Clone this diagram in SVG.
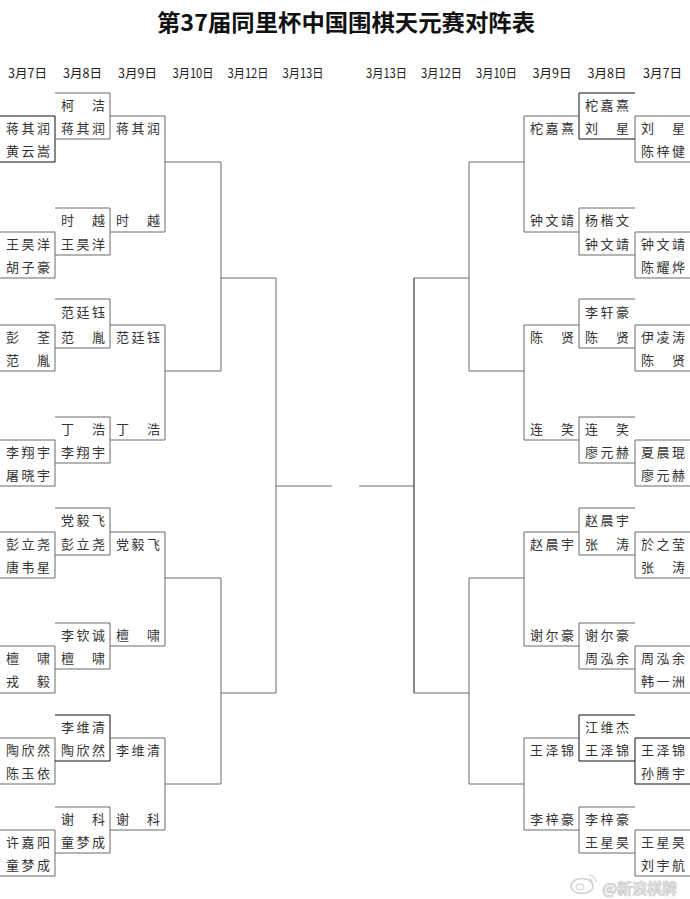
<svg xmlns="http://www.w3.org/2000/svg" width="690" height="899" viewBox="0 0 690 899">
<style>
.t{font-family:"Noto Sans CJK SC","Noto Sans",sans-serif;font-size:13px;fill:#333}
.h{font-family:"Noto Sans CJK SC","Noto Sans",sans-serif;font-size:12.5px;fill:#222;text-anchor:middle}
.ttl{font-family:"Noto Sans CJK SC","Noto Sans",sans-serif;font-size:23px;font-weight:bold;fill:#111;text-anchor:middle}
.b{fill:none;stroke:#6a6a6a;stroke-width:1}
.k{fill:none;stroke:#111;stroke-width:1}
.wm{font-family:"Noto Sans CJK SC","Noto Sans",sans-serif;font-size:15px;font-weight:bold;fill:#e4e4e4;stroke:#c8c8c8;stroke-width:0.6}
</style>
<rect width="690" height="899" fill="#fff"/>
<text class="ttl" x="346" y="31" textLength="378" lengthAdjust="spacingAndGlyphs">第37届同里杯中国围棋天元赛对阵表</text>
<g id="headers">
<text class="h" x="27.5" y="78">3月7日</text>
<text class="h" x="82.5" y="78">3月8日</text>
<text class="h" x="137.5" y="78">3月9日</text>
<text class="h" x="193" y="78" textLength="41" lengthAdjust="spacingAndGlyphs">3月10日</text>
<text class="h" x="248" y="78" textLength="41" lengthAdjust="spacingAndGlyphs">3月12日</text>
<text class="h" x="303" y="78" textLength="41" lengthAdjust="spacingAndGlyphs">3月13日</text>
<text class="h" x="386.5" y="78" textLength="41" lengthAdjust="spacingAndGlyphs">3月13日</text>
<text class="h" x="441.5" y="78" textLength="41" lengthAdjust="spacingAndGlyphs">3月12日</text>
<text class="h" x="496.5" y="78" textLength="41" lengthAdjust="spacingAndGlyphs">3月10日</text>
<text class="h" x="552" y="78">3月9日</text>
<text class="h" x="607" y="78">3月8日</text>
<text class="h" x="662.5" y="78">3月7日</text>
</g>

<!-- LEFT column 1 (3月7日) -->
<g id="L1-1"><path class="k" d="M0,116H55V162H0"/><text class="t" x="6 21.5 37" y="132.5">蒋其润</text><text class="t" x="6 21.5 37" y="155.5">黄云嵩</text></g>
<g id="L1-2"><path class="b" d="M0,232H55V278H0"/><text class="t" x="6 21.5 37" y="248.5">王昊洋</text><text class="t" x="6 21.5 37" y="271.5">胡子豪</text></g>
<g id="L1-3"><path class="b" d="M0,325H55V371H0"/><text class="t" x="6 37" y="341.5">彭荃</text><text class="t" x="6 37" y="364.5">范胤</text></g>
<g id="L1-4"><path class="b" d="M0,440H55V486H0"/><text class="t" x="6 21.5 37" y="456.5">李翔宇</text><text class="t" x="6 21.5 37" y="479.5">屠晓宇</text></g>
<g id="L1-5"><path class="b" d="M0,532H55V578H0"/><text class="t" x="6 21.5 37" y="548.5">彭立尧</text><text class="t" x="6 21.5 37" y="571.5">唐韦星</text></g>
<g id="L1-6"><path class="b" d="M0,646H55V693H0"/><text class="t" x="6 37" y="662.5">檀啸</text><text class="t" x="6 37" y="686">戎毅</text></g>
<g id="L1-7"><path class="b" d="M0,738H55V784H0"/><text class="t" x="6 21.5 37" y="754.5">陶欣然</text><text class="t" x="6 21.5 37" y="777.5">陈玉依</text></g>
<g id="L1-8"><path class="b" d="M0,830H55V876H0"/><text class="t" x="6 21.5 37" y="846.5">许嘉阳</text><text class="t" x="6 21.5 37" y="869.5">童梦成</text></g>

<!-- LEFT column 2 (3月8日) -->
<g id="L2-1"><path class="b" d="M55,93H110V139H55"/><text class="t" x="61 92" y="109.5">柯洁</text><text class="t" x="61 76.5 92" y="132.5">蒋其润</text></g>
<g id="L2-2"><path class="b" d="M55,208H110V255H55"/><text class="t" x="61 92" y="225">时越</text><text class="t" x="61 76.5 92" y="248.5">王昊洋</text></g>
<g id="L2-3"><path class="b" d="M55,299H110V348H55"/><text class="t" x="61 76.5 92" y="317">范廷钰</text><text class="t" x="61 92" y="341.5">范胤</text></g>
<g id="L2-4"><path class="b" d="M55,417H110V463H55"/><text class="t" x="61 92" y="433.5">丁浩</text><text class="t" x="61 76.5 92" y="456.5">李翔宇</text></g>
<g id="L2-5"><path class="b" d="M55,508H110V555H55"/><text class="t" x="61 76.5 92" y="525">党毅飞</text><text class="t" x="61 76.5 92" y="548.5">彭立尧</text></g>
<g id="L2-6"><path class="b" d="M55,623H110V669H55"/><text class="t" x="61 76.5 92" y="639.5">李钦诚</text><text class="t" x="61 92" y="662.5">檀啸</text></g>
<g id="L2-7"><path class="k" d="M55,715H110V761H55"/><text class="t" x="61 76.5 92" y="731.5">李维清</text><text class="t" x="61 76.5 92" y="754.5">陶欣然</text></g>
<g id="L2-8"><path class="b" d="M55,807H110V853H55"/><text class="t" x="61 92" y="823.5">谢科</text><text class="t" x="61 76.5 92" y="846.5">童梦成</text></g>

<!-- LEFT column 3 (3月9日) names -->
<g id="L3-1"><text class="t" x="116 131.5 147" y="132.5">蒋其润</text><text class="t" x="116 147" y="225">时越</text></g>
<g id="L3-2"><text class="t" x="116 131.5 147" y="341.5">范廷钰</text><text class="t" x="116 147" y="433.5">丁浩</text></g>
<g id="L3-3"><text class="t" x="116 131.5 147" y="548.5">党毅飞</text><text class="t" x="116 147" y="639.5">檀啸</text></g>
<g id="L3-4"><text class="t" x="116 131.5 147" y="754.5">李维清</text><text class="t" x="116 147" y="823.5">谢科</text></g>

<!-- RIGHT column 1 (3月7日) -->
<g id="R1-1"><path class="b" d="M690,116H635V162H690"/><text class="t" x="641 672" y="132.5">刘星</text><text class="t" x="641 656.5 672" y="155.5">陈梓健</text></g>
<g id="R1-2"><path class="b" d="M690,232H635V278H690"/><text class="t" x="641 656.5 672" y="248.5">钟文靖</text><text class="t" x="641 656.5 672" y="271.5">陈耀烨</text></g>
<g id="R1-3"><path class="b" d="M690,325H635V371H690"/><text class="t" x="641 656.5 672" y="341.5">伊凌涛</text><text class="t" x="641 672" y="364.5">陈贤</text></g>
<g id="R1-4"><path class="b" d="M690,440H635V486H690"/><text class="t" x="641 656.5 672" y="456.5">夏晨琨</text><text class="t" x="641 656.5 672" y="479.5">廖元赫</text></g>
<g id="R1-5"><path class="b" d="M690,532H635V578H690"/><text class="t" x="641 656.5 672" y="548.5">於之莹</text><text class="t" x="641 672" y="571.5">张涛</text></g>
<g id="R1-6"><path class="b" d="M690,646H635V693H690"/><text class="t" x="641 656.5 672" y="662.5">周泓余</text><text class="t" x="641 656.5 672" y="686">韩一洲</text></g>
<g id="R1-7"><path class="k" d="M690,738H635V784H690"/><text class="t" x="641 656.5 672" y="754.5">王泽锦</text><text class="t" x="641 656.5 672" y="777.5">孙腾宇</text></g>
<g id="R1-8"><path class="b" d="M690,830H635V876H690"/><text class="t" x="641 656.5 672" y="846.5">王星昊</text><text class="t" x="641 656.5 672" y="869.5">刘宇航</text></g>

<!-- RIGHT column 2 (3月8日) -->
<g id="R2-1"><path class="k" d="M635,93H579V139H635"/><text class="t" x="585 600.5 616" y="109.5">柁嘉熹</text><text class="t" x="585 616" y="132.5">刘星</text></g>
<g id="R2-2"><path class="b" d="M635,208H579V255H635"/><text class="t" x="585 600.5 616" y="225">杨楷文</text><text class="t" x="585 600.5 616" y="248.5">钟文靖</text></g>
<g id="R2-3"><path class="b" d="M635,299H579V348H635"/><text class="t" x="585 600.5 616" y="317">李轩豪</text><text class="t" x="585 616" y="341.5">陈贤</text></g>
<g id="R2-4"><path class="b" d="M635,417H579V463H635"/><text class="t" x="585 616" y="433.5">连笑</text><text class="t" x="585 600.5 616" y="456.5">廖元赫</text></g>
<g id="R2-5"><path class="b" d="M635,508H579V555H635"/><text class="t" x="585 600.5 616" y="525">赵晨宇</text><text class="t" x="585 616" y="548.5">张涛</text></g>
<g id="R2-6"><path class="b" d="M635,623H579V669H635"/><text class="t" x="585 600.5 616" y="639.5">谢尔豪</text><text class="t" x="585 600.5 616" y="662.5">周泓余</text></g>
<g id="R2-7"><path class="k" d="M635,715H579V761H635"/><text class="t" x="585 600.5 616" y="731.5">江维杰</text><text class="t" x="585 600.5 616" y="754.5">王泽锦</text></g>
<g id="R2-8"><path class="b" d="M635,807H579V853H635"/><text class="t" x="585 600.5 616" y="823.5">李梓豪</text><text class="t" x="585 600.5 616" y="846.5">王星昊</text></g>

<!-- RIGHT column 3 (3月9日) names -->
<g id="R3-1"><text class="t" x="530 545.5 561" y="132.5">柁嘉熹</text><text class="t" x="530 545.5 561" y="225">钟文靖</text></g>
<g id="R3-2"><text class="t" x="530 561" y="341.5">陈贤</text><text class="t" x="530 561" y="433.5">连笑</text></g>
<g id="R3-3"><text class="t" x="530 545.5 561" y="548.5">赵晨宇</text><text class="t" x="530 545.5 561" y="639.5">谢尔豪</text></g>
<g id="R3-4"><text class="t" x="530 545.5 561" y="754.5">王泽锦</text><text class="t" x="530 545.5 561" y="823.5">李梓豪</text></g>

<g id="connectors">
<path class="b" d="M110,116H165V232H110"/>
<path class="b" d="M110,325H165V440H110"/>
<path class="b" d="M110,532H165V646H110"/>
<path class="b" d="M110,738H165V830H110"/>
<path class="b" d="M165,162H221V371H165"/>
<path class="b" d="M165,578H221V784H165"/>
<path class="b" d="M221,278H276V693H221"/>
<path class="b" d="M276,486H332"/>
<path class="b" d="M579,116H524V232H579"/>
<path class="b" d="M579,325H524V440H579"/>
<path class="b" d="M579,532H524V646H579"/>
<path class="b" d="M579,738H524V830H579"/>
<path class="b" d="M524,162H469V371H524"/>
<path class="b" d="M524,578H469V784H524"/>
<path class="b" d="M469,278H414"/>
<path class="b" d="M414,693H469"/>
<path class="k" d="M414,278V693"/>
<path class="b" d="M414,486H359"/>
</g>

<g id="watermark">
<ellipse cx="582" cy="886" rx="11" ry="7.5" fill="none" stroke="#cfcfcf" stroke-width="1.4"/>
<ellipse cx="580" cy="887" rx="4" ry="3" fill="none" stroke="#cfcfcf" stroke-width="1"/>
<path d="M589,875a7,7 0 0 1 7,7M589,879a3,3 0 0 1 3,3" fill="none" stroke="#cfcfcf" stroke-width="1.2"/>
<text class="wm" x="602" y="894">@新浪棋牌</text>
</g>
</svg>
